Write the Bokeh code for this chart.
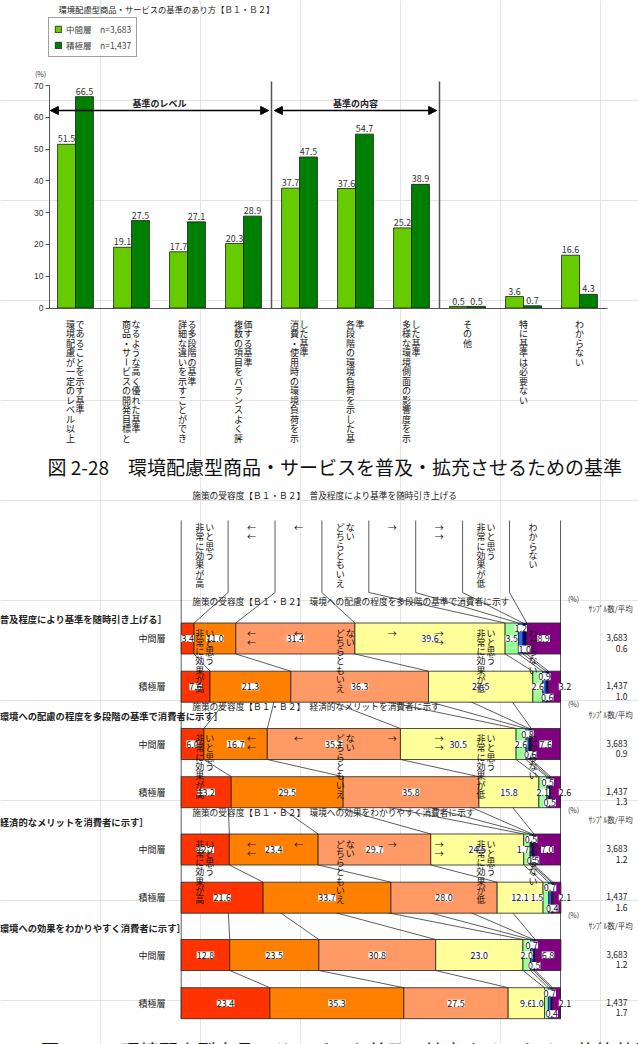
import numpy as np
from bokeh.plotting import figure
from bokeh.models import (Range1d, LinearAxis, FixedTicker, Arrow, NormalHead,
                          Legend, LegendItem)
from bokeh.layouts import column
from bokeh.embed import file_html
from bokeh.resources import INLINE
from bokeh.core.properties import value

FONT = value("Noto Sans CJK JP")

# ------------------------------------------------------------------ data (chart 2-28)
chart1_title = "環境配慮型商品・サービスの基準のあり方【Ｂ１・Ｂ２】"
chart1_caption = "図 2-28　環境配慮型商品・サービスを普及・拡充させるための基準"
criteria = [
    ["環境配慮が一定のレベル以上", "であることを示す基準"],
    ["商品・サービスの開発目標と", "なるような高く優れた基準"],
    ["詳細な違いを示すことができ", "る多段階の基準"],
    ["複数の項目をバランスよく評", "価する基準"],
    ["消費・使用時の環境負荷を示", "した基準"],
    ["各段階の環境負荷を示した基", "準"],
    ["多様な環境側面の影響度を示", "した基準"],
    ["その他"],
    ["特に基準は必要ない"],
    ["わからない"],
]
group_names = ["中間層", "積極層"]
group_n = ["3,683", "1,437"]
mid_pct = [51.5, 19.1, 17.7, 20.3, 37.7, 37.6, 25.2, 0.5, 3.6, 16.6]
act_pct = [66.5, 27.5, 27.1, 28.9, 47.5, 54.7, 38.9, 0.5, 0.7, 4.3]
y_ticks = [0, 10, 20, 30, 40, 50, 60, 70]
section_names = ["基準のレベル", "基準の内容"]

# ------------------------------------------------------------------ data (chart 2-29)
chart2_prefix = "施策の受容度【Ｂ１・Ｂ２】　"
policies = [
    "普及程度により基準を随時引き上げる",
    "環境への配慮の程度を多段階の基準で消費者に示す",
    "経済的なメリットを消費者に示す",
    "環境への効果をわかりやすく消費者に示す",
]
scale_headers = [
    ["非常に効果が高", "いと思う"],
    ["←←"],
    ["←"],
    ["どちらともいえ", "ない"],
    ["→"],
    ["→→"],
    ["非常に効果が低", "いと思う"],
    ["わからない"],
]
mid_rows = [
    [3.4, 11.0, 31.4, 39.6, 3.5, 1.2, 1.0, 8.9],
    [6.0, 16.7, 35.1, 30.5, 2.6, 0.8, 0.6, 7.6],
    [12.7, 23.4, 29.7, 24.5, 1.7, 0.5, 0.5, 7.0],
    [12.8, 23.5, 30.8, 23.0, 2.0, 0.7, 0.5, 6.8],
]
act_rows = [
    [7.6, 21.3, 36.3, 27.5, 2.6, 0.9, 0.6, 3.2],
    [13.2, 29.5, 35.8, 15.8, 2.1, 0.5, 0.5, 2.6],
    [21.6, 33.7, 28.0, 12.1, 1.5, 0.7, 0.4, 2.1],
    [23.4, 35.3, 27.5, 9.6, 1.0, 0.7, 0.4, 2.1],
]
mid_second = ["0.6", "0.9", "1.2", "1.2"]
act_second = ["1.0", "1.3", "1.6", "1.7"]
pct_unit = "(%)"
sample_header = "ｻﾝﾌﾟﾙ数/平均"
chart2_caption = "図 2-29　環境配慮型商品・サービスを普及・拡充させるための施策効果の評価"

# ------------------------------------------------------------------ helpers
def vertical_text(cols, xc, ytop, step, offs):
    xs, ys, ts, ang = [], [], [], []
    use = [0.0] if len(cols) == 1 else offs
    for col, off in zip(cols, use):
        for i, ch in enumerate(col):
            xs.append(xc + off)
            ys.append(ytop + i * step)
            ts.append(ch)
            ang.append(np.pi / 2 if ch == "ー" else 0.0)
    return xs, ys, ts, ang


def base_fig(h, ytop):
    p = figure(width=W, height=h, x_range=Range1d(0, W), y_range=Range1d(ytop + h, ytop),
               output_backend="svg", toolbar_location=None, min_border=0,
               x_axis_location=None, y_axis_location=None, outline_line_color=None,
               background_fill_color="white", border_fill_color="white")
    return p

# ------------------------------------------------------------------ figure 1
W = 638
H1 = 480
p1 = base_fig(H1, 0)

Y0_PX, Y70_PX = 307.5, 85.0
K1 = (Y0_PX - Y70_PX) / 70.0
CAT0_PX, CAT_W = 75.0, 56.0
p1.extra_y_ranges = {"pct": Range1d(start=(Y0_PX - H1) / K1, end=Y0_PX / K1)}
p1.extra_x_ranges = {"cat": Range1d(start=-CAT0_PX / CAT_W, end=(W - CAT0_PX) / CAT_W)}

idx = np.arange(len(mid_pct))
BW = 0.32
LIGHT, DARK = "#66CC00", "#008000"
r_mid = p1.vbar(x=idx - BW / 2, top=mid_pct, bottom=0, width=BW, fill_color=LIGHT,
                line_color="#1a1a1a", line_width=0.8, x_range_name="cat", y_range_name="pct")
r_act = p1.vbar(x=idx + BW / 2, top=act_pct, bottom=0, width=BW, fill_color=DARK,
                line_color="#1a1a1a", line_width=0.8, x_range_name="cat", y_range_name="pct")

for xs_, vals in ((idx - BW / 2, mid_pct), (idx + BW / 2, act_pct)):
    p1.text(x=list(xs_), y=[v + 0.6 for v in vals], text=[f"{v:.1f}" for v in vals],
            x_range_name="cat", y_range_name="pct", text_align="center",
            text_baseline="bottom", text_font=FONT, text_font_size="9px", text_color="#333333")

# separators between sections
SEP_TOP = (Y0_PX - 81) / K1
p1.segment(x0=[3.5, 6.5], y0=[0, 0], x1=[3.5, 6.5], y1=[SEP_TOP, SEP_TOP],
           x_range_name="cat", y_range_name="pct", line_color="#555555", line_width=1.5)

# axes
yax = LinearAxis(y_range_name="pct", fixed_location=49, ticker=FixedTicker(ticks=y_ticks),
                 bounds=(0, 70))
yax.major_tick_out = 4
yax.major_tick_in = 0
yax.minor_tick_out = 0
yax.axis_line_color = "#555555"
yax.major_tick_line_color = "#555555"
yax.major_label_text_font_size = "8.5px"
yax.major_label_text_color = "#333333"
yax.major_label_standoff = 2
p1.add_layout(yax, "left")

xax = LinearAxis(x_range_name="cat", y_range_name="pct", fixed_location=0,
                 ticker=FixedTicker(ticks=[]), bounds=(-0.465, 9.5))
xax.major_label_text_font_size = "0px"
xax.major_tick_out = 0
xax.minor_tick_out = 0
xax.axis_line_color = "#555555"
xax.axis_line_width = 1.2
p1.add_layout(xax, "below")

# section arrows
ARROW_Y = (Y0_PX - 110) / K1
LABEL_Y = (Y0_PX - 103) / K1
for (xa, xb), name in zip(((-0.45, 3.45), (3.55, 6.45)), section_names):
    p1.add_layout(Arrow(x_start=xa, y_start=ARROW_Y, x_end=xb, y_end=ARROW_Y,
                        x_range_name="cat", y_range_name="pct", line_width=1.5,
                        start=NormalHead(size=8, fill_color="black", line_color="black"),
                        end=NormalHead(size=8, fill_color="black", line_color="black")))
    p1.text(x=[(xa + xb) / 2], y=[LABEL_Y], text=[name], x_range_name="cat", y_range_name="pct",
            text_align="center", text_baseline="middle", text_font=FONT,
            text_font_size="9px", text_font_style="bold", text_color="#222222")

# title, unit
p1.text(x=[58], y=[8], text=[chart1_title], text_align="left", text_baseline="middle",
        text_font=FONT, text_font_size="8.3px", text_color="#222222")
p1.text(x=[40], y=[73], text=[pct_unit], text_align="center", text_baseline="middle",
        text_font=FONT, text_font_size="7px", text_color="#333333")

# category labels (vertical)
cx, cy, ct, ca = [], [], [], []
for i, cols in enumerate(criteria):
    xs_, ys_, ts_, an_ = vertical_text(cols, CAT0_PX + CAT_W * i, 323.5, 9.5, [-5.0, 4.5])
    cx += xs_; cy += ys_; ct += ts_; ca += an_
p1.text(x=cx, y=cy, text=ct, angle=ca, text_align="center", text_baseline="middle",
        text_font=FONT, text_font_size="9px", text_color="#111111")

# legend
legend = Legend(items=[LegendItem(label=f"{group_names[0]}　n={group_n[0]}", renderers=[r_mid]),
                       LegendItem(label=f"{group_names[1]}　n={group_n[1]}", renderers=[r_act])],
                location=(48, H1 - 57))
legend.border_line_color = "#444444"
legend.border_line_width = 1
legend.background_fill_color = "white"
legend.label_text_font = "Noto Sans CJK JP"
legend.label_text_font_size = "8.5px"
legend.glyph_width = 8
legend.glyph_height = 8
legend.label_height = 9
legend.label_standoff = 4
legend.spacing = 4
legend.padding = 5
legend.margin = 0
p1.add_layout(legend)

# caption
p1.text(x=[47], y=[466], text=[chart1_caption], text_align="left", text_baseline="middle",
        text_font=FONT, text_font_size="19px", text_color="#111111")

# ------------------------------------------------------------------ figure 2
H2 = 564
Y2 = 480
p2 = base_fig(H2, Y2)
BAR_L, BAR_R = 180.7, 560.0
K2 = (BAR_R - BAR_L) / 100.0
p2.extra_x_ranges = {"pct": Range1d(start=-BAR_L / K2, end=(W - BAR_L) / K2)}

ROW0, GRP, BLK, BH = 638.0, 48.2, 105.5, 31.0
HDR_TOP, HDR_BOT, HDR_COL = 520.0, 592.0, 46.9
seg_colors = ["#FF3300", "#FF8000", "#FF9966", "#FFFF99", "#99FF99", "#3366FF", "#000080", "#800080"]
nb = len(policies)
ns = len(seg_colors)
hdr_b = [j * HDR_COL / K2 for j in range(1, ns)]

def row_center(b, g):
    return ROW0 + b * BLK + g * GRP

# header leader lines, header column lines, frame lines (drawn under bars)
x0s, y0s, x1s, y1s = [], [], [], []
for b in range(nb):
    cm = np.cumsum(mid_rows[b])
    ytop = row_center(b, 0) - BH / 2
    for j in range(ns - 1):
        x0s.append(hdr_b[j]); y0s.append(HDR_BOT + b * BLK)
        x1s.append(cm[j]); y1s.append(ytop)
for j in range(ns - 1):
    x0s.append(hdr_b[j]); y0s.append(HDR_TOP); x1s.append(hdr_b[j]); y1s.append(HDR_BOT)
last_bottom = row_center(nb - 1, 1) + BH / 2
x0s += [0, 100]; y0s += [HDR_TOP, HDR_TOP]; x1s += [0, 100]; y1s += [last_bottom, last_bottom]
p2.segment(x0=x0s, y0=y0s, x1=x1s, y1=y1s, x_range_name="pct",
           line_color="#333333", line_width=0.8)

# bars
by, bl, br, bc = [], [], [], []
for b in range(nb):
    for g, rows in enumerate((mid_rows, act_rows)):
        vals = np.array(rows[b])
        cum = np.cumsum(vals)
        for j in range(ns):
            by.append(row_center(b, g)); bl.append(cum[j] - vals[j]); br.append(cum[j])
            bc.append(seg_colors[j])
p2.hbar(y=by, left=bl, right=br, height=BH, fill_color=bc, line_color="#222222",
        line_width=0.8, x_range_name="pct")

# connector lines between 中間層 and 積極層
cx0, cy0, cx1, cy1 = [], [], [], []
for b in range(nb):
    cm = np.cumsum(mid_rows[b]); cac = np.cumsum(act_rows[b])
    for j in range(ns - 1):
        cx0.append(cm[j]); cy0.append(row_center(b, 0) + BH / 2)
        cx1.append(cac[j]); cy1.append(row_center(b, 1) - BH / 2)
p2.segment(x0=cx0, y0=cy0, x1=cx1, y1=cy1, x_range_name="pct",
           line_color="#333333", line_width=0.8)

# value labels
lx, ly, lt = [], [], []
for b in range(nb):
    for g, rows in enumerate((mid_rows, act_rows)):
        vals = np.array(rows[b])
        cum = np.cumsum(vals)
        yc = row_center(b, g)
        for j in range(ns):
            v = vals[j]
            xc = cum[j] - v / 2
            y = yc
            if j == 4:
                shift = 9 if v < 1.6 else (4 if v < 1.8 else 0)
                xc = xc - shift / K2
            elif j == 5:
                y = yc - BH / 2 + 5.5
            elif j == 6:
                y = yc + BH / 2 - 5
            elif j == 7 and v < 5:
                xc = 100 + 4.5 / K2
            lx.append(xc); ly.append(y); lt.append(f"{v:.1f}")
p2.text(x=lx, y=ly, text=lt, x_range_name="pct", text_align="center", text_baseline="middle",
        text_font=FONT, text_font_size="9px", text_color="#111111",
        background_fill_color="white", background_fill_alpha=1.0)

# header texts (one per block, overlaid as in the source)
hx, hy, ht, ha = [], [], [], []
for b in range(nb):
    for j, cols in enumerate(scale_headers):
        xs_, ys_, ts_, an_ = vertical_text(cols, BAR_L + HDR_COL * (j + 0.5),
                                           527 + b * BLK, 9.3, [-5.0, 5.0])
        hx += xs_; hy += ys_; ht += ts_; ha += an_
p2.text(x=hx, y=hy, text=ht, angle=ha, text_align="center", text_baseline="middle",
        text_font=FONT, text_font_size="9px", text_color="#111111")

# block titles
p2.text(x=[191.7] * nb, y=[495 + b * BLK for b in range(nb)],
        text=[chart2_prefix + pol for pol in policies], text_align="left", text_baseline="middle",
        text_font=FONT, text_font_size="8.7px", text_color="#222222")

# left bracket labels
left_dy = [-20, -28, -28, -27]
p2.text(x=[-10] * nb, y=[row_center(b, 0) + left_dy[b] for b in range(nb)],
        text=["［" + pol + "］" for pol in policies], text_align="left", text_baseline="middle",
        text_font=FONT, text_font_size="9.3px", text_font_style="bold", text_color="#222222")

# row labels and sample numbers
rlx, rly, rlt, nx, ny, nt = [], [], [], [], [], []
for b in range(nb):
    for g in range(2):
        yc = row_center(b, g)
        rlx.append(165); rly.append(yc); rlt.append(group_names[g])
        nx += [627, 627]; ny += [yc - 1, yc + 9.5]
        nt += [group_n[g], (mid_second if g == 0 else act_second)[b]]
p2.text(x=rlx, y=rly, text=rlt, text_align="right", text_baseline="middle",
        text_font=FONT, text_font_size="9px", text_color="#222222")
p2.text(x=nx, y=ny, text=nt, text_align="right", text_baseline="middle",
        text_font=FONT, text_font_size="8.5px", text_color="#222222")

p2.text(x=[573] * nb, y=[598 + b * BLK for b in range(nb)], text=[pct_unit] * nb,
        text_align="center", text_baseline="middle", text_font=FONT, text_font_size="7px",
        text_color="#333333")
p2.text(x=[588] * nb, y=[608 + b * BLK for b in range(nb)], text=[sample_header] * nb,
        text_align="left", text_baseline="middle", text_font=FONT, text_font_size="7.5px",
        text_color="#333333")

# caption (cut at the bottom like the source)
p2.text(x=[40], y=[1036], text=[chart2_caption], text_align="left", text_baseline="top",
        text_font=FONT, text_font_size="19px", text_color="#111111")

layout = column(p1, p2, spacing=0)
open("out.html", "w").write(file_html(layout, INLINE))
